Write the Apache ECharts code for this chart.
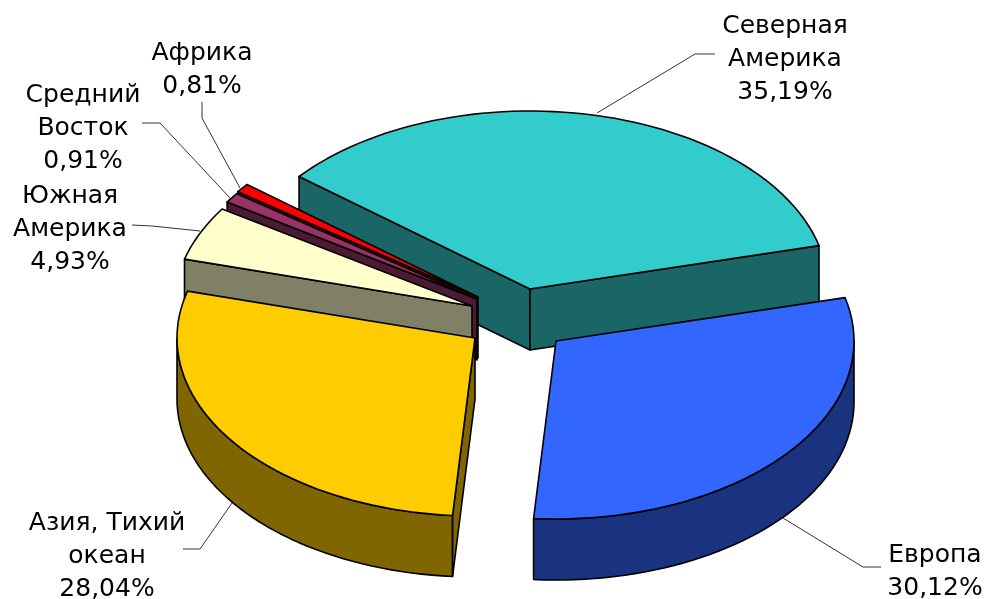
<!DOCTYPE html>
<html>
<head>
<meta charset="utf-8">
<style>html,body{margin:0;padding:0;background:#fff}#c{width:988px;height:599px}</style>
<script src="https://cdn.jsdelivr.net/npm/echarts@6/dist/echarts.min.js"></script>
</head>
<body>
<div id="c"></div>
<script>
var categories = ['Северная\nАмерика', 'Европа', 'Азия, Тихий\nокеан', 'Южная\nАмерика', 'Средний\nВосток', 'Африка'];
var shares = [35.19, 30.12, 28.04, 4.93, 0.91, 0.81];

var topColors = ['#33CCCC', '#3366FF', '#FFCC00', '#FFFFCC', '#993366', '#FF0000'];
var wallColors = ['#1A6666', '#1A3380', '#806600', '#808066', '#4D1A33', '#800000'];
var apexes = [[530, 289], [556, 341], [475, 338], [472, 306], [477, 299], [478, 297]];
var labelCenters = [[785, 59], [935, 572], [107, 556], [70, 229], [83, 128], [202, 70]];
var leaders = [
  [[597, 113], [695, 54], [715, 54]],
  [[783, 518], [863, 567], [881, 567]],
  [[183, 549], [200, 549], [232, 503]],
  [[132, 225], [152, 226], [200, 231]],
  [[142, 123], [160, 123], [230, 198]],
  [[202, 102], [202, 118], [240, 188]]
];
var paintOrder = [0, 5, 4, 3, 2, 1];
var RX = 298, RY = 178, DEPTH = 61, START = 140.8;

var total = shares.reduce(function (a, b) { return a + b; }, 0);
function sliceAngles(i) {
  var before = shares.slice(0, i).reduce(function (a, b) { return a + b; }, 0);
  return [START - before / total * 360, START - (before + shares[i]) / total * 360];
}
function rim(i, deg) {
  var a = deg * Math.PI / 180;
  return [apexes[i][0] + RX * Math.cos(a), apexes[i][1] - RY * Math.sin(a)];
}
function down(p) { return [p[0], p[1] + DEPTH]; }
function arcPoints(i, from, to) {
  var steps = Math.max(4, Math.ceil(Math.abs(from - to) / 2));
  var pts = [];
  for (var k = 0; k <= steps; k++) pts.push(rim(i, from + (to - from) * k / steps));
  return pts;
}
function isRight(deg) { return Math.cos(deg * Math.PI / 180) > 0; }

function renderSlice(params, api) {
  var i = api.value(1);
  var ang = sliceAngles(i);
  var apex = apexes[i];
  var line = { stroke: '#000', lineWidth: 1.6, lineJoin: 'round' };
  function poly(points, fill) {
    return { type: 'polygon', shape: { points: points }, style: Object.assign({ fill: fill }, line) };
  }
  var children = [];
  var hi = Math.min(ang[0], 0), lo = Math.max(ang[1], -180);
  if (hi > lo) {
    var front = arcPoints(i, hi, lo);
    children.push(poly(front.concat(front.map(down).reverse()), wallColors[i]));
  }
  if (!isRight(ang[0])) {
    var a = rim(i, ang[0]);
    children.push(poly([apex, a, down(a), down(apex)], wallColors[i]));
  }
  if (isRight(ang[1])) {
    var b = rim(i, ang[1]);
    children.push(poly([apex, b, down(b), down(apex)], wallColors[i]));
  }
  children.push(poly([apex].concat(arcPoints(i, ang[0], ang[1])), topColors[i]));
  return { type: 'group', children: children };
}
function renderLabel(params, api) {
  var i = api.value(1);
  var c = labelCenters[i];
  var text = categories[i] + '\n' + shares[i].toFixed(2).replace('.', ',') + '%';
  return { type: 'group', children: [
    { type: 'polyline', shape: { points: leaders[i] }, style: { stroke: '#333', lineWidth: 1, fill: null } },
    { type: 'text', style: { text: text, x: c[0], y: c[1], align: 'center', verticalAlign: 'middle',
      font: '25px "DejaVu Sans"', lineHeight: 33, fill: '#000' } }
  ] };
}
var rows = paintOrder.map(function (i) { return [shares[i], i]; });
var chart = echarts.init(document.getElementById('c'), null, { renderer: 'canvas' });
chart.setOption({
  animation: false,
  backgroundColor: '#fff',
  series: [
    { type: 'custom', coordinateSystem: 'none', data: rows, renderItem: renderSlice, silent: true, z: 2 },
    { type: 'custom', coordinateSystem: 'none', data: rows, renderItem: renderLabel, silent: true, z: 3 }
  ]
});
</script>
</body>
</html>
